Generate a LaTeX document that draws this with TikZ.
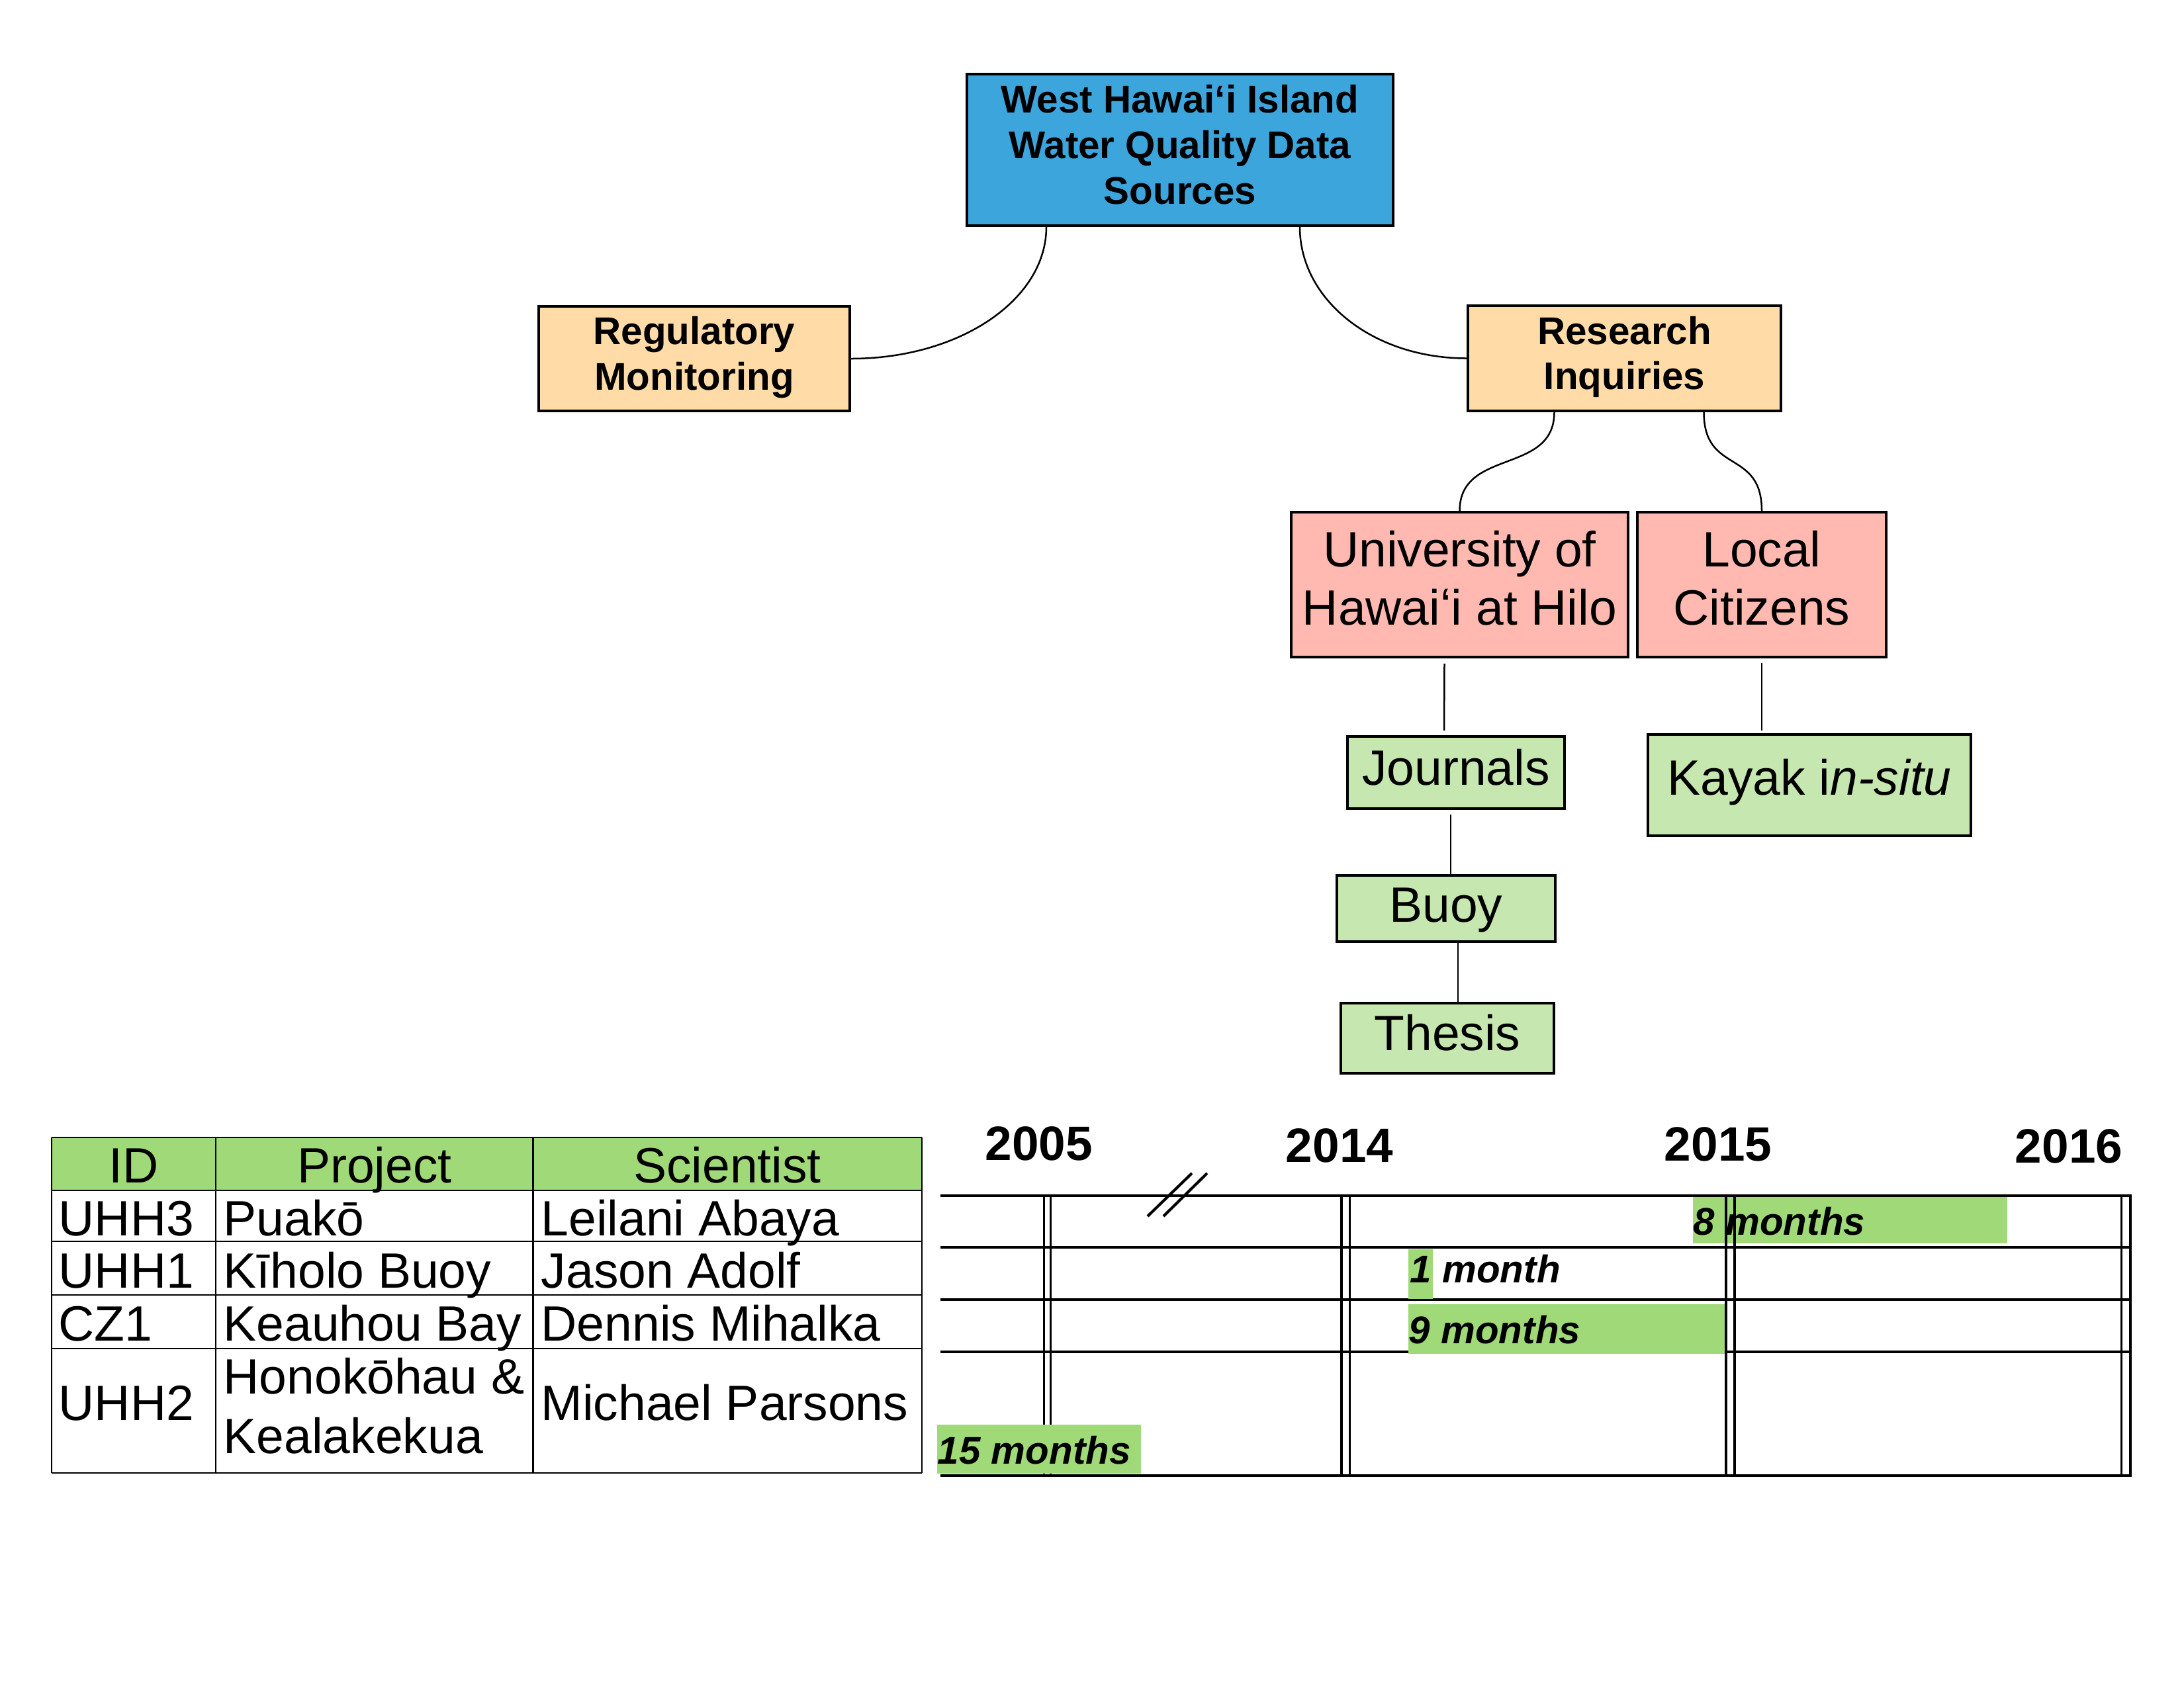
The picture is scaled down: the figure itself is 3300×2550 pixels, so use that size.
\documentclass[tikz,border=0pt]{standalone}
\usepackage{fontspec}
\setmainfont{Liberation Sans}
\usetikzlibrary{calc}
\definecolor{cblue}{HTML}{3BA5DC}
\definecolor{cpeach}{HTML}{FFDBA8}
\definecolor{csalmon}{HTML}{FFB9B0}
\definecolor{clgreen}{HTML}{C6E7AF}
\definecolor{cgreen}{HTML}{A0D977}
\begin{document}
\begin{tikzpicture}[x=0.24pt,y=-0.24pt,
  box/.style={draw, line width=0.9pt, inner sep=0pt},
  boldtxt/.style={inner sep=0pt, align=center, font=\fontsize{14}{16.5}\selectfont\bfseries},
  plaintxt/.style={inner sep=0pt, align=center, font=\fontsize{18}{21}\selectfont},
  conn/.style={line width=0.6pt},
  tabline/.style={line width=0.6pt},
  gridline/.style={line width=0.75pt},
  breakmark/.style={line width=1pt},
  cell/.style={inner sep=0pt, font=\fontsize{18}{21}\selectfont, anchor=base west},
  headcell/.style={inner sep=0pt, font=\fontsize{18}{21}\selectfont, anchor=base},
  yearlab/.style={inner sep=0pt, font=\fontsize{17.5}{20}\selectfont\bfseries},
  barlab/.style={inner sep=0pt, anchor=west, font=\fontsize{14}{16}\selectfont\bfseries\itshape}
]
\useasboundingbox (0,0) rectangle (3300,2550);

% ---- tree boxes ----
\node[box, fill=cblue, minimum width=644*0.24pt, minimum height=229*0.24pt] (top) at (1783,226.5) {};
\node[box, fill=cpeach, minimum width=470*0.24pt, minimum height=158*0.24pt] (reg) at (1049,542) {};
\node[box, fill=cpeach, minimum width=473*0.24pt, minimum height=159*0.24pt] (res) at (2454.5,541.5) {};
\node[box, fill=csalmon, minimum width=509*0.24pt, minimum height=219*0.24pt] (univ) at (2205.5,883.5) {};
\node[box, fill=csalmon, minimum width=376*0.24pt, minimum height=219*0.24pt] (local) at (2662,883.5) {};
\node[box, fill=clgreen, minimum width=328*0.24pt, minimum height=109*0.24pt] (journals) at (2200,1167.5) {};
\node[box, fill=clgreen, minimum width=488*0.24pt, minimum height=153*0.24pt] (kayak) at (2734,1186.5) {};
\node[box, fill=clgreen, minimum width=330*0.24pt, minimum height=100*0.24pt] (buoy) at (2185,1373) {};
\node[box, fill=clgreen, minimum width=322*0.24pt, minimum height=106*0.24pt] (thesis) at (2187,1569) {};

% ---- tree texts ----
\node[boldtxt] (toptxt) at ($(top.center)+(0,-8)$) {West Hawaiʻi Island\\Water Quality Data\\Sources};
\node[boldtxt] (regtxt) at ($(reg.center)+(0,-2)$) {Regulatory\\Monitoring};
\node[boldtxt] (restxt) at ($(res.center)+(0,-2)$) {Research\\Inquiries};
\node[plaintxt] (univtxt) at ($(univ.center)+(0,-10)$) {University of\\Hawaiʻi at Hilo};
\node[plaintxt] (localtxt) at ($(local.center)+(0,-10)$) {Local\\Citizens};
\node[plaintxt] (journalstxt) at ($(journals.center)+(0,-8)$) {Journals};
\node[plaintxt] (kayaktxt) at ($(kayak.center)+(0,-4)$) {Kayak i\textit{n-situ}};
\node[plaintxt] (buoytxt) at ($(buoy.center)+(0,2)$) {Buoy};
\node[plaintxt] (thesistxt) at ($(thesis.center)+(0,-8)$) {Thesis};

% ---- connectors ----
\draw[conn] ($(top.south)+(-202,0)$) .. controls +(0,111) and +(163,0) .. (reg.east);
\draw[conn] ($(top.south)+(181,0)$) .. controls +(0,110) and +(-142,0) .. (res.west);
\draw[conn] ($(res.south)+(-106,0)$) .. controls +(0,95) and +(0,-95) .. (univ.north);
\draw[conn] ($(res.south)+(120,0)$) .. controls +(0,95) and +(0,-95) .. (local.north);
\draw[conn] ($(univ.south)+(-23,8)$) -- ($(journals.north)+(-18,-7)$);
\draw[conn] ($(local.south)+(0,7)$) -- ($(kayak.north)+(-72,-4)$);
\draw[conn] ($(journals.south)+(-8,7)$) -- ($(buoy.north)+(7,0)$);
\draw[conn] ($(buoy.south)+(18,0)$) -- ($(thesis.north)+(16,0)$);

% ---- table ----
\fill[cgreen] (78,1719) rectangle (1393,1799);
\foreach \yy in {1719,1799,1876,1957,2038,2226}
  \draw[tabline] (78,\yy) -- (1393,\yy);
\foreach \xx in {78,326,805.5,1393}
  \draw[tabline] (\xx,1719) -- (\xx,2226);
\node[headcell] (hid) at (202,1787) {ID};
\node[headcell] (hproj) at (566,1787) {Project};
\node[headcell] (hsci) at (1099,1787) {Scientist};
\node[cell] (id1) at (88,1867) {UHH3};
\node[cell] (pr1) at (337,1867) {Puakō};
\node[cell] (sc1) at (817,1867) {Leilani Abaya};
\node[cell] (id2) at (88,1946) {UHH1};
\node[cell] (pr2) at (337,1946) {Kīholo Buoy};
\node[cell] (sc2) at (817,1946) {Jason Adolf};
\node[cell] (id3) at (88,2026) {CZ1};
\node[cell] (pr3) at (337,2026) {Keauhou Bay};
\node[cell] (sc3) at (817,2026) {Dennis Mihalka};
\node[cell] (id4) at (88,2146) {UHH2};
\node[cell] (pr4a) at (337,2106) {Honokōhau \&};
\node[cell] (pr4b) at (337,2196) {Kealakekua};
\node[cell] (sc4) at (817,2146) {Michael Parsons};

% ---- timeline ----
\node[yearlab] (y2005) at (1570,1728) {2005};
\node[yearlab] (y2014) at (2024,1731) {2014};
\node[yearlab] (y2015) at (2596,1729) {2015};
\node[yearlab] (y2016) at (3126,1732) {2016};

\fill[cgreen] (2558,1809) rectangle (3033,1879);
\foreach \yy in {1807,1885,1964,2043,2230}
  \draw[gridline] (1421,\yy) -- (3221,\yy);
\foreach \xx in {1577.5,1587.5,2027,2039.5,2608,2621,3205.5,3219}
  \draw[gridline] (\xx,1807) -- (\xx,2230);
\draw[breakmark] (1734,1838) -- (1801,1773);
\draw[breakmark] (1758,1838) -- (1824,1773);
\fill[cgreen] (2128,1888) rectangle (2165,1963);
\fill[cgreen] (2128,1971) rectangle (2606,2046);
\fill[cgreen] (1416,2153) rectangle (1724,2227);

\node[barlab] (l8) at (2558,1846) {8 months};
\node[barlab] (l1) at (2130,1918) {1 month};
\node[barlab] (l9) at (2128,2010) {9 months};
\node[barlab] (l15) at (1416,2192) {15 months};
\end{tikzpicture}
\end{document}
